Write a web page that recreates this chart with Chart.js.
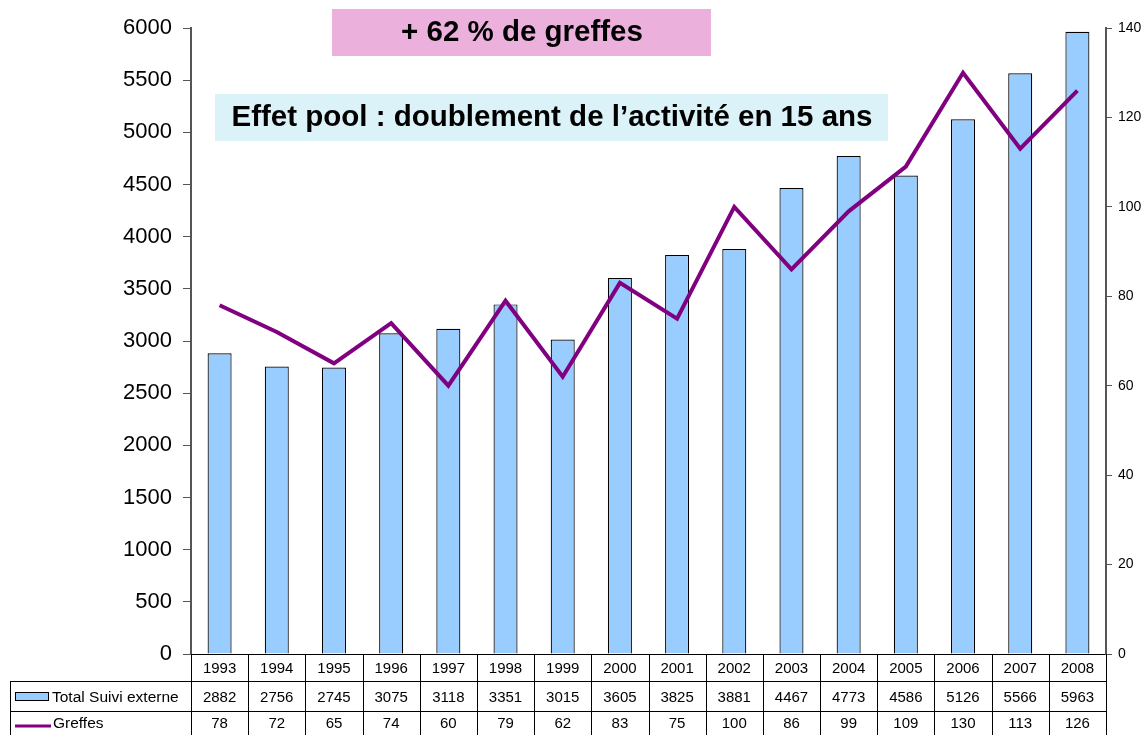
<!DOCTYPE html>
<html>
<head>
<meta charset="utf-8">
<script src="https://cdn.jsdelivr.net/npm/chart.js@4/dist/chart.umd.min.js"></script>
<style>
html,body{margin:0;padding:0;background:#fff;}
#wrap{position:relative;width:1148px;height:735px;}
</style>
</head>
<body>
<div id="wrap"><canvas id="c" width="1148" height="735"></canvas></div>
<script>
const years = ['1993','1994','1995','1996','1997','1998','1999','2000','2001','2002','2003','2004','2005','2006','2007','2008'];
const suiviExterne = [2882,2756,2745,3075,3118,3351,3015,3605,3825,3881,4467,4773,4586,5126,5566,5963];
const greffes = [78,72,65,74,60,79,62,83,75,100,86,99,109,130,113,126];
const seriesNames = ['Total Suivi externe','Greffes'];
const leftTicks = {min:0,max:6000,step:500};
const rightTicks = {min:0,max:140,step:20};
const note1 = '+ 62 % de greffes';
const note2 = 'Effet pool : doublement de l\u2019activité en 15 ans';

const FONT = '"Liberation Sans", Arial, sans-serif';
const BAR_COLOR = '#99CCFF';
const LINE_COLOR = '#800080';

const tablePlugin = {
  id:'dataTable',
  afterDraw(chart){
    const ctx = chart.ctx;
    const x = chart.scales.x;
    const area = chart.chartArea;
    const left = area.left, right = area.right;
    const tableLeft = 10;
    const r0 = area.bottom, r1 = 681.5, r2 = 711.5, r3 = 740;
    const n = years.length;
    const cw = (right-left)/n;
    ctx.save();
    ctx.strokeStyle = '#000';
    ctx.lineWidth = 1;
    ctx.beginPath();
    ctx.moveTo(tableLeft, r1); ctx.lineTo(right, r1);
    ctx.moveTo(tableLeft, r2); ctx.lineTo(right, r2);
    ctx.moveTo(tableLeft+0.5, r1); ctx.lineTo(tableLeft+0.5, r3);
    for(let i=0;i<=n;i++){
      const vx = Math.round(left + i*cw)+0.5;
      ctx.moveTo(vx, r0); ctx.lineTo(vx, r3);
    }
    ctx.stroke();
    ctx.fillStyle = '#000';
    ctx.font = '15px ' + FONT;
    ctx.textAlign = 'center';
    ctx.textBaseline = 'middle';
    for(let i=0;i<n;i++){
      const cx = x.getPixelForValue(i);
      ctx.fillText(years[i], cx, (r0+r1)/2+1);
      ctx.fillText(String(suiviExterne[i]), cx, (r1+r2)/2+1);
      ctx.fillText(String(greffes[i]), cx, (r2+r3)/2-2);
    }
    ctx.textAlign = 'left';
    ctx.fillStyle = BAR_COLOR;
    ctx.fillRect(15.5, 692.5, 33, 8);
    ctx.strokeStyle = '#000';
    ctx.strokeRect(15.5, 692.5, 33, 8);
    ctx.strokeStyle = LINE_COLOR;
    ctx.lineWidth = 3;
    ctx.beginPath(); ctx.moveTo(15, 726); ctx.lineTo(51, 726); ctx.stroke();
    ctx.fillStyle = '#000';
    ctx.font = '15.5px ' + FONT;
    ctx.fillText(seriesNames[0], 52, (r1+r2)/2+1);
    ctx.fillText(seriesNames[1], 53, (r2+r3)/2-2);
    ctx.restore();
  }
};

const notesPlugin = {
  id:'notes',
  afterDraw(chart){
    const ctx = chart.ctx;
    ctx.save();
    ctx.fillStyle = '#EBB0DC';
    ctx.fillRect(332, 9, 379, 47);
    ctx.fillStyle = '#DAF2F8';
    ctx.fillRect(215, 94, 673, 47);
    ctx.fillStyle = '#000';
    ctx.font = 'bold 29.5px ' + FONT;
    ctx.textAlign = 'center';
    ctx.textBaseline = 'middle';
    ctx.fillText(note1, 522, 33);
    ctx.fillText(note2, 552, 118);
    ctx.restore();
  }
};

new Chart(document.getElementById('c'), {
  data:{
    labels: years,
    datasets:[
      {type:'line', label:seriesNames[1], data:greffes, yAxisID:'y2', borderColor:LINE_COLOR, backgroundColor:LINE_COLOR, borderWidth:4, pointRadius:0, tension:0, order:0},
      {type:'bar', label:seriesNames[0], data:suiviExterne, yAxisID:'y', backgroundColor:BAR_COLOR, borderColor:'#000', borderWidth:1.2, borderSkipped:'bottom', barPercentage:0.42, categoryPercentage:1.0, order:1}
    ]
  },
  options:{
    responsive:false,
    animation:false,
    devicePixelRatio:1,
    layout:{padding:{left:0,right:0,top:28,bottom:73}},
    plugins:{legend:{display:false},tooltip:{enabled:false}},
    scales:{
      x:{
        offset:true,
        grid:{display:false},
        ticks:{display:false},
        border:{display:true,color:'#000',width:1}
      },
      y:{
        position:'left',
        min:leftTicks.min,max:leftTicks.max,
        ticks:{stepSize:leftTicks.step,color:'#000',font:{family:FONT,size:22},padding:11,callback:v=>String(v)},
        grid:{drawOnChartArea:false,drawTicks:true,tickLength:8,color:'#555'},
        border:{display:true,color:'#555',width:2},
        afterFit(s){s.width=191;}
      },
      y2:{
        position:'right',
        min:rightTicks.min,max:rightTicks.max,
        ticks:{stepSize:rightTicks.step,color:'#000',font:{family:FONT,size:14},padding:6,callback:v=>String(v)},
        grid:{drawOnChartArea:false,drawTicks:true,tickLength:6,color:'#555'},
        border:{display:true,color:'#555',width:2},
        afterFit(s){s.width=42;}
      }
    }
  },
  plugins:[tablePlugin, notesPlugin]
});
</script>
</body>
</html>
